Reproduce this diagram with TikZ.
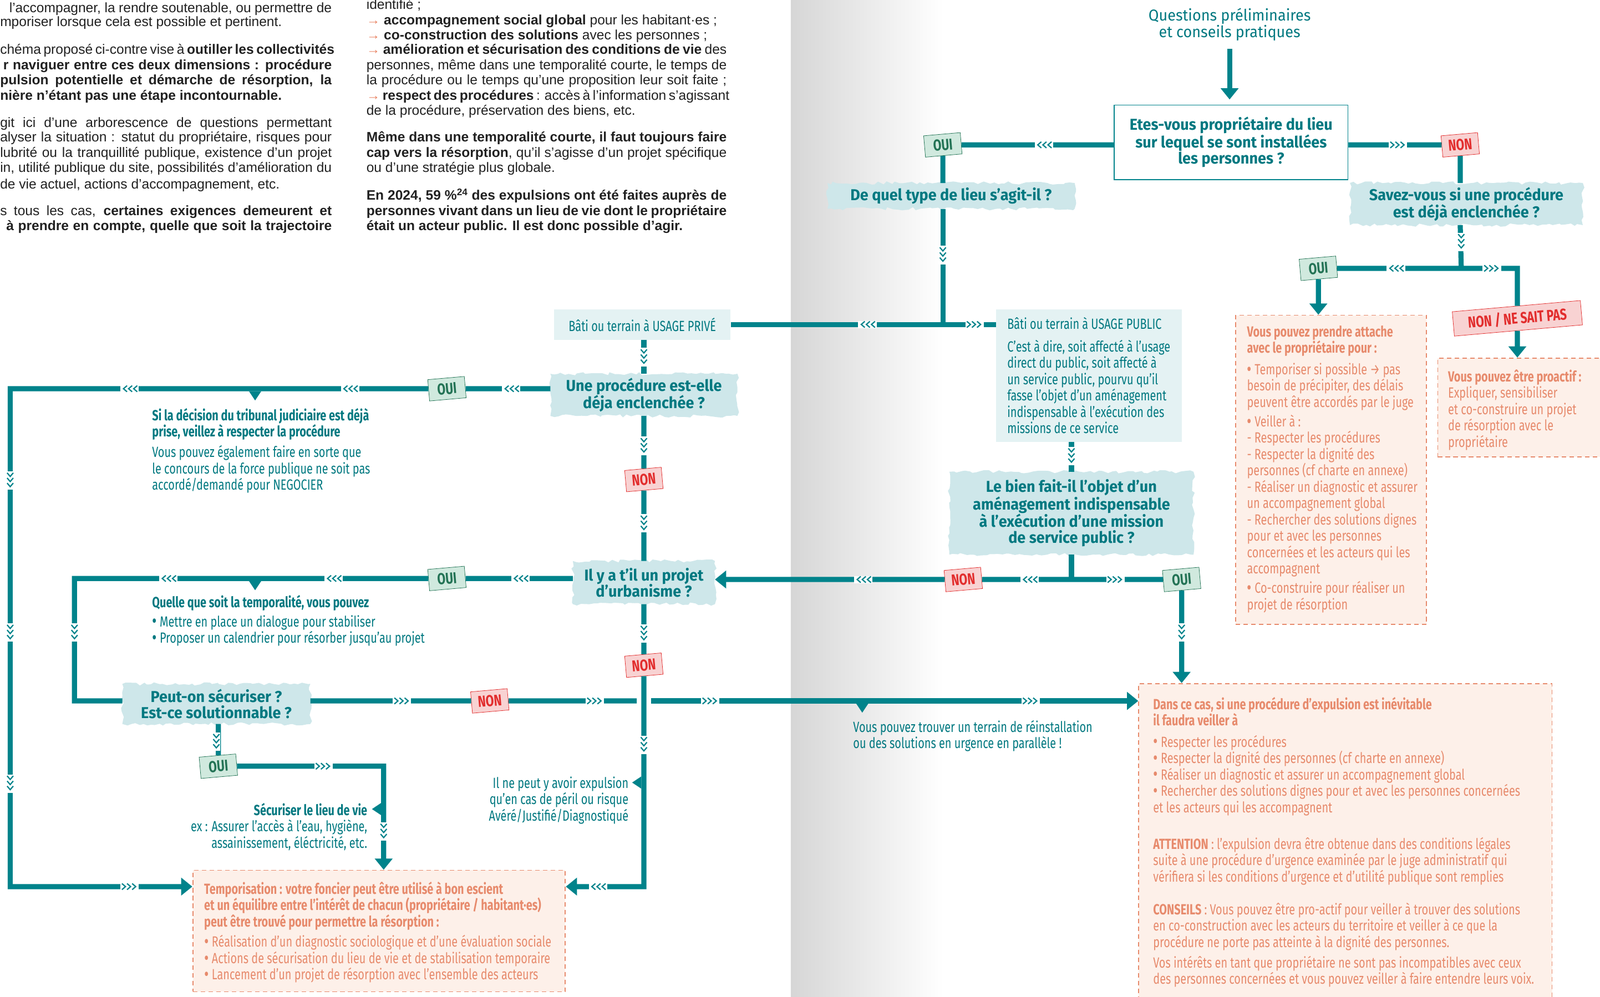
\documentclass[tikz,border=0pt]{standalone}
\usepackage{fontspec}
\usepackage{graphicx}
\setmainfont{Liberation Sans}
\newfontfamily\cond{Fira Sans}[FakeStretch=0.75]
\newfontfamily\quest{Fira Sans}[FakeStretch=0.95]
\usetikzlibrary{arrows.meta,decorations.pathmorphing,positioning}
\pgfdeclarelayer{fond}
\pgfsetlayers{fond,main}
\definecolor{canard}{RGB}{0,131,139}
\definecolor{canardtxt}{RGB}{0,120,128}
\definecolor{brossefond}{RGB}{206,231,234}
\definecolor{palefond}{RGB}{228,242,243}
\definecolor{peche}{RGB}{253,240,233}
\definecolor{saumon}{RGB}{231,138,108}
\definecolor{ouifond}{RGB}{208,233,222}
\definecolor{ouitrait}{RGB}{35,115,85}
\definecolor{nonfond}{RGB}{248,210,210}
\definecolor{nontrait}{RGB}{226,45,45}
\definecolor{encre}{RGB}{33,33,33}
\definecolor{fleche}{RGB}{232,130,98}
\definecolor{gris}{RGB}{214,214,214}
\newlength\un \setlength\un{0.5mm}
\newcommand\jl[2]{\makebox[#1\un][s]{#2}}
\newcommand\fl{{\color{fleche}→}}
\newcommand\puce{\smash{\raisebox{-0.06em}{\scalebox{1.3}{•}}}}
\newcommand\fcorps{\cond\fontsize{20.5}{22.8}\selectfont}
\newcommand\fquest{\quest\bfseries\fontsize{22}{22.8}\selectfont}
\newcommand\ftexte{\fontsize{19}{20}\selectfont}
\tikzset{
  flux/.style={draw=canard, line width=2.5mm},
  fluxfl/.style={flux, -{Triangle[length=5.5mm,width=8.5mm]}},
  oui/.style={draw=ouitrait, fill=ouifond, text=ouitrait, rotate=5, line width=0.6pt,
    minimum width=18mm, minimum height=10.5mm, inner sep=0pt, font=\cond\bfseries\fontsize{22}{22}\selectfont},
  non/.style={oui, draw=nontrait, fill=nonfond, text=nontrait},
  brosse/.style={text=canardtxt, align=center, inner sep=0pt, font=\fquest},
  brossage/.style={fill=brossefond, decorate, decoration={random steps, segment length=2mm, amplitude=0.8mm}},
  cadre/.style={draw=canard, line width=1.4pt, fill=white, text=canardtxt, align=center, font=\fquest},
  titre/.style={text=canardtxt, align=center, font=\quest\fontsize{22}{21.5}\selectfont},
  usage/.style={fill=palefond, text=canardtxt, inner sep=0pt, font=\fcorps},
  conseil/.style={draw=saumon, fill=peche, line width=0.5mm, dash pattern=on 2.2mm off 1.6mm, inner sep=0pt},
  txtconseil/.style={text=saumon, anchor=north west, align=left, inner sep=0pt, font=\fcorps},
  txtcanard/.style={text=canardtxt, anchor=north west, align=left, inner sep=0pt, font=\fcorps},
  haut/.style={text=encre, anchor=base west, inner sep=0pt, font=\ftexte},
  chevD/.pic={\fill[white] (-3.5,-9) rectangle (3.5,9);
    \foreach \d in {-5,0,5}{\draw[canard, line width=0.6mm] (-3,\d-2.5) -- (0,\d+1) -- (3,\d-2.5);}},
  chevR/.pic={\fill[white] (-9,-3.5) rectangle (9,3.5);
    \foreach \d in {-5,0,5}{\draw[canard, line width=0.6mm] (\d-2.5,-3) -- (\d+1,0) -- (\d-2.5,3);}},
  chevL/.pic={\fill[white] (-9,-3.5) rectangle (9,3.5);
    \foreach \d in {-5,0,5}{\draw[canard, line width=0.6mm] (\d+2.5,-3) -- (\d-1,0) -- (\d+2.5,3);}},
  pointeB/.pic={\fill[canard] (-6,0) -- (6,0) -- (0,9) -- cycle;},
  pointeG/.pic={\fill[canard] (0,-6) -- (0,6) -- (-9,0) -- cycle;}
}
\begin{document}
\begin{tikzpicture}[x=0.5mm, y=-0.5mm]
\useasboundingbox (0,0) rectangle (1568,977);
\clip (0,0) rectangle (1568,977);
\begin{pgfonlayer}{fond}
\shade[left color=gris, right color=white] (775,0) rectangle (925,977);
\end{pgfonlayer}

\node[haut] (ga) at (9,12) {\jl{316}{l’accompagner, la rendre soutenable, ou permettre de}};
\node[haut] (gb) at (0,26) {mporiser lorsque cela est possible et pertinent.};
\node[haut] (gc) at (0,53) {\jl{325}{chéma proposé ci-contre vise à \textbf{outiller les collectivités}}};
\node[haut] (gd) at (3,68) {\jl{322}{\textbf{r naviguer entre ces deux dimensions : procédure}}};
\node[haut] (ge) at (0,83) {\jl{325}{\textbf{pulsion potentielle et démarche de résorption, la}}};
\node[haut] (gf) at (0,98) {\textbf{nière n’étant pas une étape incontournable.}};
\node[haut] (gg) at (0,125) {\jl{325}{git ici d’une arborescence de questions permettant}};
\node[haut] (gh) at (0,139) {\jl{325}{alyser la situation : statut du propriétaire, risques pour}};
\node[haut] (gi) at (0,154) {\jl{325}{lubrité ou la tranquillité publique, existence d’un projet}};
\node[haut] (gj) at (0,169) {\jl{325}{in, utilité publique du site, possibilités d’amélioration du}};
\node[haut] (gk) at (0,185) {de vie actuel, actions d’accompagnement, etc.};
\node[haut] (gl) at (0,211) {\jl{325}{s tous les cas, \textbf{certaines exigences demeurent et}}};
\node[haut] (gm) at (6,226) {\jl{319}{\textbf{à prendre en compte, quelle que soit la trajectoire}}};

\node[haut] (da) at (359,9) {identifié ;};
\node[haut] (db) at (359,24) {\fl{} \textbf{accompagnement social global} pour les habitant·es ;};
\node[haut] (dc) at (359,39) {\fl{} \textbf{co-construction des solutions} avec les personnes ;};
\node[haut] (dd) at (359,53) {\jl{353}{\fl{} \textbf{amélioration et sécurisation des conditions de vie} des}};
\node[haut] (de) at (359,68) {\jl{353}{personnes, même dans une temporalité courte, le temps de}};
\node[haut] (df) at (359,83) {\jl{353}{la procédure ou le temps qu’une proposition leur soit faite ;}};
\node[haut] (dg) at (359,98) {\jl{353}{\fl{} \textbf{respect des procédures} : accès à l’information s’agissant}};
\node[haut] (dh) at (359,113) {de la procédure, préservation des biens, etc.};
\node[haut] (di) at (359,139) {\jl{353}{\textbf{Même dans une temporalité courte, il faut toujours faire}}};
\node[haut] (dj) at (359,154) {\jl{353}{\textbf{cap vers la résorption}, qu’il s’agisse d’un projet spécifique}};
\node[haut] (dk) at (359,169) {ou d’une stratégie plus globale.};
\node[haut] (dl) at (359,196) {\jl{353}{\textbf{En 2024, 59 \%\textsuperscript{24} des expulsions ont été faites auprès de}}};
\node[haut] (dm) at (359,211) {\jl{353}{\textbf{personnes vivant dans un lieu de vie dont le propriétaire}}};
\node[haut] (dn) at (359,226) {\textbf{était un acteur public. Il est donc possible d’agir.}};

\node[titre] (titre) at (1205,24) {Questions préliminaires\\et conseils pratiques};
\node[cadre, minimum width=114.5mm, minimum height=36.5mm] (etes) at (1206.5,139.5) {Etes-vous propriétaire du lieu\\sur lequel se sont installées\\les personnes ?};
\node[brosse, minimum width=121mm, minimum height=12.5mm] (quel) at (932,192) {De quel type de lieu s’agit-il ?};
\node[brosse, minimum width=114mm, minimum height=20.5mm] (savez) at (1437,200) {Savez-vous si une procédure\\est déjà enclenchée ?};
\node[usage, minimum width=86.5mm, minimum height=15mm] (prive) at (629.5,318) {Bâti ou terrain à USAGE PRIVÉ};
\node[usage, align=left, minimum width=91mm, minimum height=65mm] (public) at (1067,368) {Bâti ou terrain à USAGE PUBLIC\\[3mm]C’est à dire, soit affecté à l’usage\\direct du public, soit affecté à\\un service public, pourvu qu’il\\fasse l’objet d’un aménagement\\indispensable à l’exécution des\\missions de ce service};
\node[brosse, minimum width=91.5mm, minimum height=20.5mm] (procedure) at (631,387) {Une procédure est-elle\\déja enclenchée ?};
\node[brosse, minimum width=69.5mm, minimum height=21mm] (urbanisme) at (631,571) {Il y a t’il un projet\\d’urbanisme ?};
\node[brosse, minimum width=92mm, minimum height=19.5mm] (peut) at (212,690) {Peut-on sécuriser ?\\Est-ce solutionnable ?};
\node[brosse, minimum width=119.5mm, minimum height=40.5mm] (bien) at (1050,503) {Le bien fait-il l’objet d’un\\aménagement indispensable\\à l’exécution d’une mission\\de service public ?};
\begin{pgfonlayer}{fond}
\foreach \b in {quel,savez,procedure,urbanisme,peut,bien}
  \fill[brossage] (\b.north west) rectangle (\b.south east);
\end{pgfonlayer}

\node[conseil, minimum width=93.5mm, minimum height=151.5mm] (attache) at (1304.5,460.5) {};
\node[conseil, minimum width=85.5mm, minimum height=48.5mm] (proactif) at (1494.5,399.5) {};
\node[conseil, minimum width=202.5mm, minimum height=160mm] (expulsion) at (1318.5,830) {};
\node[conseil, minimum width=182.5mm, minimum height=59.5mm] (tempo) at (371.5,912.5) {};

\node[txtconseil] (attachetxt) at (1222,319) {\textbf{Vous pouvez prendre attache}\\\textbf{avec le propriétaire pour :}\\[2.5mm]\puce{} Temporiser si possible → pas\\besoin de précipiter, des délais\\peuvent être accordés par le juge\\[1.5mm]\puce{} Veiller à :\\- Respecter les procédures\\- Respecter la dignité des\\personnes (cf charte en annexe)\\- Réaliser un diagnostic et assurer\\un accompagnement global\\- Rechercher des solutions dignes\\pour et avec les personnes\\concernées et les acteurs qui les\\accompagnent\\[1.5mm]\puce{} Co-construire pour réaliser un\\projet de résorption};
\node[txtconseil] (proactiftxt) at (1419,362) {\textbf{Vous pouvez être proactif :}\\Expliquer, sensibiliser\\et co-construire un projet\\de résorption avec le\\propriétaire};
\node[txtconseil] (expulsiontxt) at (1130,683) {\textbf{Dans ce cas, si une procédure d’expulsion est inévitable}\\\textbf{il faudra veiller à}\\[2.5mm]\puce{} Respecter les procédures\\\puce{} Respecter la dignité des personnes (cf charte en annexe)\\\puce{} Réaliser un diagnostic et assurer un accompagnement global\\\puce{} Rechercher des solutions dignes pour et avec les personnes concernées\\et les acteurs qui les accompagnent\\[10mm]\textbf{ATTENTION} : l’expulsion devra être obtenue dans des conditions légales\\suite à une procédure d’urgence examinée par le juge administratif qui\\vérifiera si les conditions d’urgence et d’utilité publique sont remplies\\[8mm]\textbf{CONSEILS} : Vous pouvez être pro-actif pour veiller à trouver des solutions\\en co-construction avec les acteurs du territoire et veiller à ce que la\\procédure ne porte pas atteinte à la dignité des personnes.\\[2mm]Vos intérêts en tant que propriétaire ne sont pas incompatibles avec ceux\\des personnes concernées et vous pouvez veiller à faire entendre leurs voix.};
\node[txtconseil] (tempotxt) at (200,864) {\textbf{Temporisation : votre foncier peut être utilisé à bon escient}\\\textbf{et un équilibre entre l’intérêt de chacun (propriétaire / habitant·es)}\\\textbf{peut être trouvé pour permettre la résorption :}\\[2mm]\puce{} Réalisation d’un diagnostic sociologique et d’une évaluation sociale\\\puce{} Actions de sécurisation du lieu de vie et de stabilisation temporaire\\\puce{} Lancement d’un projet de résorption avec l’ensemble des acteurs};

\node[txtcanard] (decision) at (149,400) {\textbf{Si la décision du tribunal judiciaire est déjà}\\\textbf{prise, veillez à respecter la procédure}\\[2mm]Vous pouvez également faire en sorte que\\le concours de la force publique ne soit pas\\accordé/demandé pour NEGOCIER};
\node[txtcanard] (quelle) at (149,583) {\textbf{Quelle que soit la temporalité, vous pouvez}\\[1.5mm]\puce{} Mettre en place un dialogue pour stabiliser\\\puce{} Proposer un calendrier pour résorber jusqu’au projet};
\node[txtcanard, anchor=north east, align=right] (securiser) at (360,787) {\textbf{Sécuriser le lieu de vie}\\ex : Assurer l’accès à l’eau, hygiène,\\assainissement, éléctricité, etc.};
\node[txtcanard, anchor=north east, align=right] (peril) at (616,761) {Il ne peut y avoir expulsion\\qu’en cas de péril ou risque\\Avéré/Justifié/Diagnostiqué};
\node[txtcanard] (reinstal) at (836,706) {Vous pouvez trouver un terrain de réinstallation\\ou des solutions en urgence en parallèle !};

\node[oui] (ouiA) at (924,142) {OUI};
\node[non] (nonA) at (1431,142) {NON};
\node[oui] (ouiB) at (1292,263) {OUI};
\node[non, minimum width=63mm, minimum height=12mm] (nsp) at (1487,312) {NON / NE SAIT PAS};
\node[oui] (ouiC) at (438,381) {OUI};
\node[non] (nonB) at (631,470) {NON};
\node[oui] (ouiD) at (438,567) {OUI};
\node[non] (nonC) at (631,652) {NON};
\node[non] (nonD) at (480,687) {NON};
\node[oui] (ouiE) at (214,751) {OUI};
\node[non] (nonE) at (944,568) {NON};
\node[oui] (ouiF) at (1158,568) {OUI};

\coordinate (depart) at (1205,48);
\coordinate (jquel) at (924,318);
\coordinate (jsavez) at (1432,263);
\coordinate (coinsavez) at (1487,263);
\coordinate (coinNO) at (10,381);
\coordinate (coinSO) at (10,869);
\coordinate (coinQ) at (73,567);
\coordinate (coinP) at (73,687);
\coordinate (coinT) at (631,869);
\coordinate (coinS) at (376,751);
\coordinate (gapL) at (624,687);
\coordinate (gapR) at (638,687);
\coordinate (jbien) at (1050,568);

\draw[fluxfl, shorten >=2.5mm] (depart) -- (depart |- etes.north);
\draw[flux] (etes.west |- ouiA) -- (ouiA) -- (ouiA |- quel.north);
\draw[flux] (ouiA |- quel.south) -- (jquel);
\draw[flux] (prive.east) -- (prive.east -| public.west);
\draw[flux] (etes.east |- nonA) -- (nonA) -- (nonA |- savez.north);
\draw[flux] (nonA |- savez.south) -- (jsavez);
\draw[fluxfl] (ouiB) -- (coinsavez) -- (nsp) -- (nsp |- proactif.north);
\draw[fluxfl] (ouiB) -- (ouiB |- attache.north);
\draw[flux] (prive.south -| procedure.north) -- (procedure.north);
\draw[fluxfl] (procedure.west |- ouiC) -- (ouiC) -- (coinNO) -- (coinSO) -- (tempo.west |- coinSO);
\draw[flux] (procedure) -- (nonB) -- (urbanisme);
\draw[flux] (urbanisme.west |- ouiD) -- (ouiD) -- (coinQ) -- (coinP) -- (peut.west |- coinP);
\draw[fluxfl] (urbanisme) -- (nonC) -- (coinT) -- (tempo.east |- coinT);
\draw[flux] (peut.east |- nonD) -- (nonD) -- (gapL);
\draw[fluxfl] (gapR) -- (expulsion.west |- gapR);
\draw[fluxfl] (peut.south -| ouiE) -- (ouiE) -- (coinS) -- (coinS |- tempo.north);
\draw[flux] (public.south -| bien.north) -- (bien.north);
\draw[flux] (bien.south) -- (jbien);
\draw[fluxfl] (ouiF) -- (nonE) -- (urbanisme.east |- nonE);
\draw[fluxfl] (ouiF) -- (ouiF |- expulsion.north);

\foreach \p in {(924,250),(1432,237),(631,350),(631,437),(631,513),(631,621),(631,730),(10,471),(10,620),(10,768),(73,620),(212,727),(376,815),(1050,447),(1158,620)}
  \pic at \p {chevD};
\foreach \p in {(1023,142),(850,318),(1368,263),(501,381),(343,381),(127,381),(510,567),(327,567),(165,567),(846,568),(1009,568),(586,869)}
  \pic at \p {chevL};
\foreach \p in {(1370,142),(955,318),(1462,263),(394,687),(583,687),(696,687),(1010,687),(127,869),(317,751),(1093,568)}
  \pic at \p {chevR};
\foreach \p in {(250,383.5),(250,569.5),(845,689.5)}
  \pic at \p {pointeB};
\foreach \p in {(373.5,793),(628.5,767)}
  \pic at \p {pointeG};
\end{tikzpicture}
\end{document}
